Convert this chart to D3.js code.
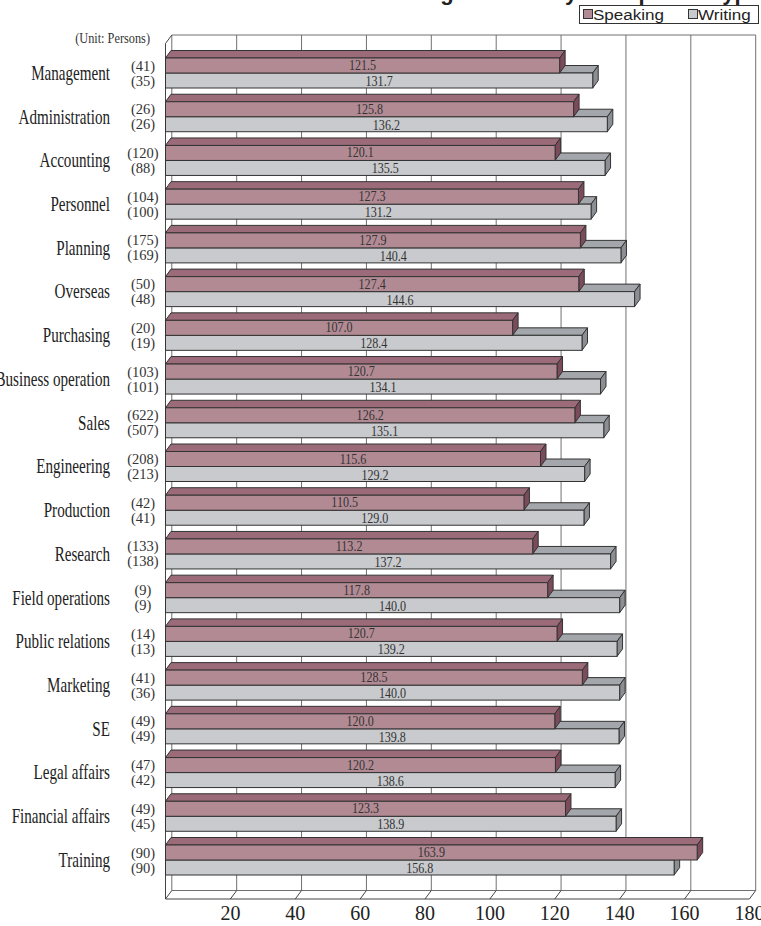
<!DOCTYPE html>
<html>
<head>
<meta charset="utf-8">
<script src="https://cdn.jsdelivr.net/npm/d3@7/dist/d3.min.js"></script>
<style>
  html, body { margin: 0; padding: 0; background: #fff; }
  svg { display: block; }
</style>
</head>
<body>
<svg id="chart" width="761" height="926"></svg>
<script>
const categories = ["Management","Administration","Accounting","Personnel","Planning","Overseas","Purchasing","Business operation","Sales","Engineering","Production","Research","Field operations","Public relations","Marketing","SE","Legal affairs","Financial affairs","Training"];
const speaking = [121.5,125.8,120.1,127.3,127.9,127.4,107.0,120.7,126.2,115.6,110.5,113.2,117.8,120.7,128.5,120.0,120.2,123.3,163.9];
const writing  = [131.7,136.2,135.5,131.2,140.4,144.6,128.4,134.1,135.1,129.2,129.0,137.2,140.0,139.2,140.0,139.8,138.6,138.9,156.8];
const speakingN = [41,26,120,104,175,50,20,103,622,208,42,133,9,14,41,49,47,49,90];
const writingN  = [35,26,88,100,169,48,19,101,507,213,41,138,9,13,36,49,42,45,90];
const tickValues = [20,40,60,80,100,120,140,160,180];
const seriesNames = ["Speaking","Writing"];
const titleText = "Average Scores by Occupation Type";
const unitText = "(Unit: Persons)";

const svg = d3.select("#chart");
const serif = "'Liberation Serif','DejaVu Serif',serif";
const sans = "'Liberation Sans',Arial,sans-serif";

const x = d3.scaleLinear().domain([0,180]).range([165.5,749.4]);
const y = d3.scalePoint().domain(categories).range([73, 860]);
const barH = 15;
const WD = {dx:6.3, dy:-8.5};   // wall depth
const BD = {dx:5.5, dy:-7.5};   // bar depth
const backTop = 35, floorFront = 899, floorBack = floorFront + WD.dy;

const colors = {
  Speaking: {front:"#b28a94", top:"#9c6b7a", end:"#7b4b5c"},
  Writing:  {front:"#c8cacd", top:"#a3a6ab", end:"#8b8e93"}
};
const gridColor = "#707070";

// Title (clipped at the top in the reference)
svg.append("text").attr("x", 380).attr("y", 0)
  .attr("font-family", sans).attr("font-weight", "bold").attr("font-size", 22)
  .attr("fill", "#222").text(titleText);

// Walls / grid
const g = svg.append("g");
const x0 = x(0), x180 = x(180);
g.append("line").attr("x1", x0+WD.dx).attr("x2", x180+WD.dx).attr("y1", backTop).attr("y2", backTop)
  .attr("stroke", gridColor);
g.selectAll(".vg").data([0].concat(tickValues)).join("line")
  .attr("x1", d => x(d)+WD.dx).attr("x2", d => x(d)+WD.dx)
  .attr("y1", backTop).attr("y2", floorBack)
  .attr("stroke", gridColor);
g.append("line").attr("x1", x0).attr("x2", x0).attr("y1", backTop - WD.dy).attr("y2", floorFront).attr("stroke", "#444");
g.append("line").attr("x1", x0).attr("x2", x0+WD.dx).attr("y1", backTop - WD.dy).attr("y2", backTop).attr("stroke", "#444");
g.append("line").attr("x1", x0+WD.dx).attr("x2", x180+WD.dx).attr("y1", floorBack).attr("y2", floorBack).attr("stroke", gridColor);
g.append("line").attr("x1", x0).attr("x2", x180).attr("y1", floorFront).attr("y2", floorFront).attr("stroke", "#444");
g.selectAll(".fd").data([0].concat(tickValues)).join("line")
  .attr("x1", d => x(d)).attr("x2", d => x(d)+WD.dx)
  .attr("y1", floorFront).attr("y2", floorBack)
  .attr("stroke", "#444");

// Tick labels
svg.selectAll(".tl").data(tickValues).join("text")
  .attr("x", d => x(d)).attr("y", 913)
  .attr("text-anchor", "middle").attr("dominant-baseline", "central")
  .attr("font-family", serif).attr("font-size", 20).attr("fill", "#222")
  .text(d => d);

// Bars
function bar(sel, v, yTop, c) {
  const xe = x(v);
  sel.append("polygon")
    .attr("points", [[x0,yTop],[x0+BD.dx,yTop+BD.dy],[xe+BD.dx,yTop+BD.dy],[xe,yTop]].map(p=>p.join(",")).join(" "))
    .attr("fill", c.top).attr("stroke", "#333").attr("stroke-width", 1).attr("stroke-linejoin","round");
  sel.append("polygon")
    .attr("points", [[xe,yTop],[xe+BD.dx,yTop+BD.dy],[xe+BD.dx,yTop+barH+BD.dy],[xe,yTop+barH]].map(p=>p.join(",")).join(" "))
    .attr("fill", c.end).attr("stroke", "#333").attr("stroke-width", 1).attr("stroke-linejoin","round");
  sel.append("rect").attr("x", x0).attr("y", yTop).attr("width", xe - x0).attr("height", barH)
    .attr("fill", c.front).attr("stroke", "#333").attr("stroke-width", 1);
}

const fmt = d3.format(".1f");
const rows = svg.append("g");
categories.forEach((cat, i) => {
  const b = y(cat);
  const gr = rows.append("g");
  bar(gr, writing[i], b, colors.Writing);
  bar(gr, speaking[i], b - barH, colors.Speaking);
  [[speaking[i], b - barH/2 - 0.5],[writing[i], b + barH/2 + 0.5]].forEach(([v, cy]) => {
    gr.append("text")
      .attr("transform", `translate(${(x0 + x(v))/2},${cy}) scale(0.78,1)`)
      .attr("text-anchor","middle").attr("dominant-baseline","central")
      .attr("font-family", serif).attr("font-size", 15.5).attr("fill", "#333")
      .text(fmt(v));
  });
  [[speakingN[i], b - barH/2],[writingN[i], b + barH/2]].forEach(([n, cy]) => {
    gr.append("text")
      .attr("x", 143).attr("y", cy)
      .attr("text-anchor","middle").attr("dominant-baseline","central")
      .attr("font-family", serif).attr("font-size", 14.5).attr("fill", "#333")
      .text(`(${n})`);
  });
  gr.append("text")
    .attr("transform", `translate(110,${b}) scale(0.72,1)`)
    .attr("text-anchor","end").attr("dominant-baseline","central")
    .attr("font-family", serif).attr("font-size", 21).attr("fill", "#222")
    .text(cat);
});

// Unit text
svg.append("text")
  .attr("transform", "translate(150,38) scale(0.88,1)")
  .attr("text-anchor","end").attr("dominant-baseline","central")
  .attr("font-family", serif).attr("font-size", 14).attr("fill", "#333")
  .text(unitText);

// Legend
const lg = svg.append("g");
lg.append("rect").attr("x", 579.5).attr("y", 5.5).attr("width", 179).attr("height", 18)
  .attr("fill", "#fff").attr("stroke", "#333");
const legendX = [583, 688];
seriesNames.forEach((s, i) => {
  lg.append("rect").attr("x", legendX[i]+0.5).attr("y", 9.5).attr("width", 9).attr("height", 9)
    .attr("fill", colors[s].front).attr("stroke", "#333");
  lg.append("text")
    .attr("transform", `translate(${legendX[i] + 10},14.5) scale(1.1,1)`)
    .attr("dominant-baseline","central")
    .attr("font-family", sans).attr("font-size", 15.5).attr("fill", "#222")
    .text(s);
});
</script>
</body>
</html>
